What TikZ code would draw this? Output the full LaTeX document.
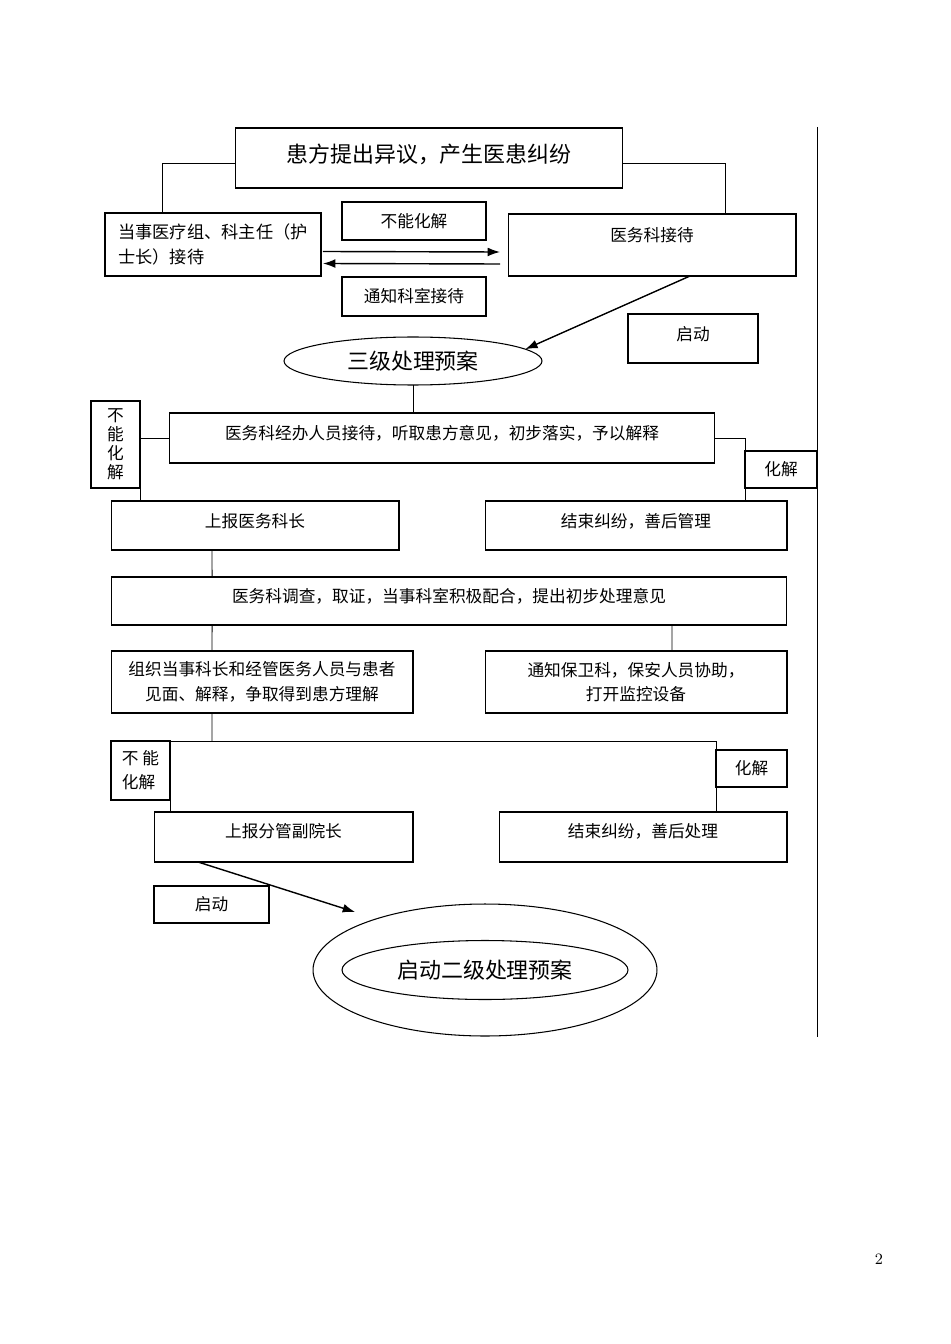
\documentclass[tikz,border=0pt]{standalone}
\usepackage{fontspec}
\usepackage{tikz}
\usetikzlibrary{calc,shapes.geometric,arrows.meta}
\newfontfamily\cjk{Noto Sans CJK SC}

\begin{document}
\begin{tikzpicture}[x=0.02cm,y=-0.02cm,
    caja/.style={draw,line width=0.6pt,inner sep=0pt,outer sep=0pt,align=center,font=\cjk\fontsize{9.5}{11.5}\selectfont},
    grande/.style={font=\cjk\fontsize{12.5}{15}\selectfont},
    elipse/.style={draw,ellipse,line width=0.6pt,inner sep=0pt,outer sep=0pt,grande},
    linea/.style={line width=0.5pt},
    flecha/.style={line width=0.8pt,-{Latex[length=7pt,width=5pt]}}]
    \useasboundingbox (0,0) rectangle (950,1344);
    % Primer nivel
    \node[caja,grande,text depth=5pt,minimum width=7.76cm,minimum height=1.2cm] (top) at (429,158) {患方提出异议，产生医患纠纷};
    \node[caja,align=left,font=\cjk\fontsize{9.8}{13.8}\selectfont,minimum width=4.32cm,minimum height=1.26cm] (lft) at (213,244.5) {当事医疗组、科主任（护\\士长）接待};
    \node[caja,text depth=12.3pt,minimum width=5.76cm,minimum height=1.24cm] (yw) at (652,245) {医务科接待};
    \node[caja,minimum width=2.88cm,minimum height=0.76cm] (bn1) at (414,221) {不能化解};
    \node[caja,minimum width=2.88cm,minimum height=0.78cm] (tz) at (414,296.5) {通知科室接待};
    \node[caja,text depth=6pt,minimum width=2.6cm,minimum height=0.98cm] (qd1) at (693,338.5) {启动};
    \node[elipse,minimum width=5.16cm,minimum height=0.96cm] (sj) at (413,361) {三级处理预案};
    \draw[linea] ($(top.west)+(0,5)$) -| ($(lft.north west)+(57,0)$);
    \draw[linea] ($(top.east)+(0,5)$) -| ($(yw.north west)+(217,0)$);
    \draw[flecha] ($(lft.east)+(2,7)$) -- ($(yw.west)+(-8,7)$);
    \draw[flecha] ($(yw.west)+(-8,19)$) -- ($(lft.east)+(2,19)$);
    \draw[flecha] ($(yw.south west)+(182,0)$) -- (sj.6);
    % Tercer nivel
    \node[caja,text depth=6.7pt,minimum width=10.92cm,minimum height=1cm] (jb) at (442,438) {医务科经办人员接待，听取患方意见，初步落实，予以解释};
    \node[caja,font=\cjk\fontsize{9.5}{10.8}\selectfont,minimum width=0.98cm,minimum height=1.74cm] (bn2) at (115.5,444.5) {不\\能\\化\\解};
    \node[caja,minimum width=1.44cm,minimum height=0.74cm] (hj1) at (781,469.5) {化解};
    \node[caja,text depth=6pt,minimum width=5.76cm,minimum height=0.98cm] (sb1) at (255,525.5) {上报医务科长};
    \node[caja,text depth=6pt,minimum width=6.04cm,minimum height=0.98cm] (js1) at (636,525.5) {结束纠纷，善后管理};
    \node[caja,text depth=6.7pt,minimum width=13.52cm,minimum height=0.96cm] (dc) at (449,601) {医务科调查，取证，当事科室积极配合，提出初步处理意见};
    \node[caja,font=\cjk\fontsize{9.5}{14}\selectfont,minimum width=6.04cm,minimum height=1.24cm] (zz) at (262,682) {组织当事科长和经管医务人员与患者\\见面、解释，争取得到患方理解};
    \node[caja,font=\cjk\fontsize{9.5}{14}\selectfont,minimum width=6.04cm,minimum height=1.24cm] (tzb) at (636,682) {通知保卫科，保安人员协助，\\打开监控设备};
    \draw[linea] (sj.south) -- (sj.south |- jb.north);
    \draw[linea] (jb.west) -| ($(sb1.north west)+(29,0)$);
    \draw[linea] (jb.east) -| (hj1.west |- js1.north);
    \draw[linea] ($(sb1.south west)+(101,0)$) -- ($(dc.north west)+(101,0)$);
    \draw[linea] ($(dc.south west)+(101,0)$) -- ($(zz.north west)+(101,0)$);
    \draw[linea] ($(dc.south east)+(-115,0)$) -- ($(tzb.north east)+(-115,0)$);
    % Segundo nivel
    \node[caja,align=left,font=\cjk\fontsize{9.5}{13.5}\selectfont,minimum width=1.18cm,minimum height=1.18cm] (bn3) at (140.5,770.5) {不 能\\化解};
    \node[caja,minimum width=1.42cm,minimum height=0.74cm] (hj2) at (751.5,768.5) {化解};
    \node[caja,text depth=7.8pt,minimum width=5.18cm,minimum height=1cm] (sb2) at (283.5,837) {上报分管副院长};
    \node[caja,text depth=7.8pt,minimum width=5.76cm,minimum height=1cm] (js2) at (643,837) {结束纠纷，善后处理};
    \node[caja,minimum width=2.3cm,minimum height=0.74cm] (qd2) at (211.5,904.5) {启动};
    \node[elipse,minimum width=6.88cm,minimum height=2.64cm] (ejout) at (485,970) {};
    \node[elipse,minimum width=5.72cm,minimum height=1.18cm] (ej) at (485,970) {启动二级处理预案};
    \draw[linea] ($(zz.south west)+(101,0)$) -- ($(bn3.north west)+(101,0)$);
    \draw[linea] (bn3.north east |- sb2.north) -- (bn3.north east) -| (hj2.west |- js2.north);
    \draw[flecha] ($(sb2.south west)+(44,0)$) -- ($(ejout.west |- ejout.north)+(42,8)$);
    % Margen y pagina
    \draw[linea] (817,127) -- (817,1037);
    \node (pg) at (879,1259) {\fontsize{9}{10}\selectfont 2};
\end{tikzpicture}
\end{document}
